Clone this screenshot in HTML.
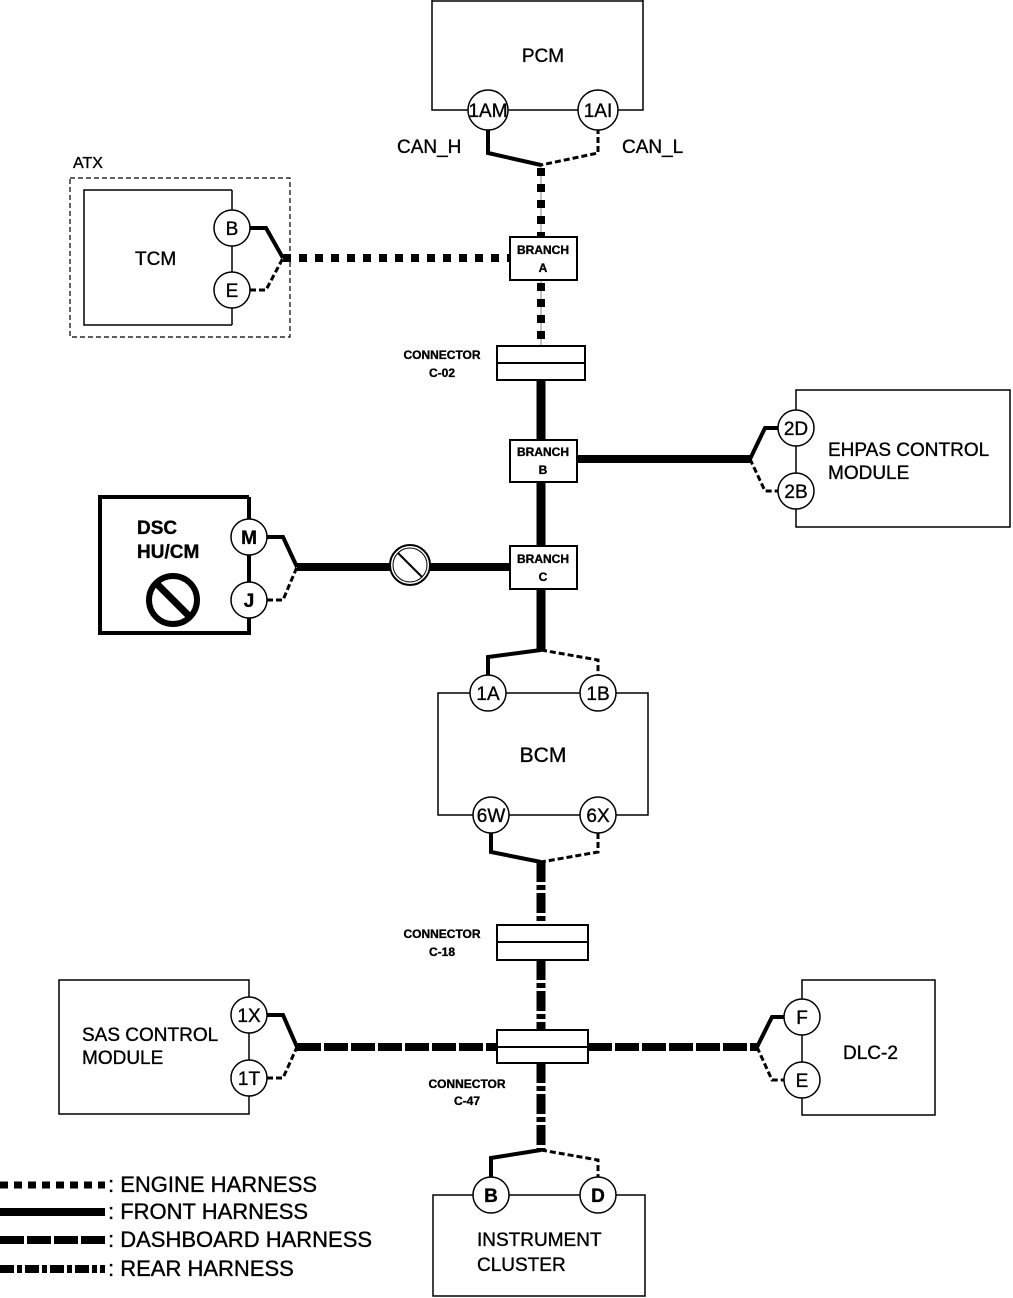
<!DOCTYPE html>
<html><head><meta charset="utf-8"><style>
html,body{margin:0;padding:0;background:#fff;}
svg{display:block;}
text{font-family:"Liberation Sans",sans-serif;fill:#000;stroke:#000;stroke-width:0.35;}
</style></head><body>
<svg width="1013" height="1298" viewBox="0 0 1013 1298" xmlns="http://www.w3.org/2000/svg">
<g fill="none" stroke="#000">
<path d="M432,0 V110 H643 V0" stroke-width="1.5"/>
<line x1="432" y1="1" x2="643" y2="1" stroke-width="1.5"/>
<rect x="70" y="178" width="220" height="159" stroke-width="1.2" stroke-dasharray="5,3"/>
<path d="M232,190 H84 V325 H232" stroke-width="1.5"/>
<line x1="232" y1="190" x2="232" y2="325" stroke-width="1.5"/>
<path d="M249,497 H100 V633 H249 V497" stroke-width="4"/>
<path d="M796,390 H1010 V527 H796 Z" stroke-width="1.5"/>
<rect x="438" y="693" width="210" height="122" stroke-width="1.5"/>
<rect x="59" y="980" width="190" height="134" stroke-width="1.5"/>
<rect x="802" y="980" width="133" height="135" stroke-width="1.5"/>
<path d="M433,1296 V1195 H645 V1296 Z" stroke-width="1.5"/>

<line x1="541" y1="165" x2="541" y2="346" stroke="#888" stroke-width="1"/>
<line x1="541" y1="168" x2="541" y2="238" stroke-width="8" stroke-dasharray="8,8"/>
<line x1="541" y1="283" x2="541" y2="346" stroke-width="8" stroke-dasharray="8,8"/>
<line x1="283" y1="258" x2="510" y2="258" stroke-width="8" stroke-dasharray="8,8"/>
<path d="M488,128 V153 L541,165" stroke-width="4"/>
<path d="M598,128 V153 L541,165" stroke-width="3" stroke-dasharray="6,3"/>
<path d="M250,228 H266 L283,258" stroke-width="4"/>
<path d="M250,290 H266 L283,258" stroke-width="3" stroke-dasharray="6,3"/>

<line x1="541" y1="380" x2="541" y2="440" stroke-width="9"/>
<line x1="541" y1="482" x2="541" y2="546" stroke-width="9"/>
<line x1="541" y1="589" x2="541" y2="650" stroke-width="9"/>
<line x1="577" y1="459" x2="750" y2="459" stroke-width="8"/>
<line x1="297" y1="567" x2="510" y2="567" stroke-width="8"/>
<path d="M750,459 L765,428 H778" stroke-width="4"/>
<path d="M750,459 L765,491 H778" stroke-width="3" stroke-dasharray="6,3"/>
<path d="M267,537 H283 L297,567" stroke-width="4"/>
<path d="M267,600 H283 L297,567" stroke-width="3" stroke-dasharray="6,3"/>
<path d="M541,650 L488,657 V675" stroke-width="4"/>
<path d="M541,650 L598,660 V675" stroke-width="3" stroke-dasharray="6,3"/>
<path d="M491,833 V852 L541,862" stroke-width="4"/>
<path d="M598,833 V852 L541,862" stroke-width="3" stroke-dasharray="6,3"/>
<line x1="541" y1="862" x2="541" y2="925" stroke-width="9" stroke-dasharray="20,3,5,3"/>
<line x1="541" y1="960" x2="541" y2="1030" stroke-width="9" stroke-dasharray="20,3,5,3"/>
<line x1="541" y1="1063" x2="541" y2="1150" stroke-width="9" stroke-dasharray="20,3,5,3"/>
<path d="M541,1150 L491,1158 V1177" stroke-width="4"/>
<path d="M541,1150 L598,1160 V1177" stroke-width="3" stroke-dasharray="6,3"/>
<line x1="297" y1="1047" x2="497" y2="1047" stroke-width="8" stroke-dasharray="24,3"/>
<line x1="588" y1="1047" x2="757" y2="1047" stroke-width="8" stroke-dasharray="24,3"/>
<path d="M267,1015 H283 L297,1047" stroke-width="4"/>
<path d="M267,1078 H283 L297,1047" stroke-width="3" stroke-dasharray="6,3"/>
<path d="M757,1047 L772,1017 H784" stroke-width="4"/>
<path d="M757,1047 L772,1080 H784" stroke-width="3" stroke-dasharray="6,3"/>

<g fill="#fff" stroke-width="2">
<rect x="510" y="237" width="67" height="43"/>
<rect x="510" y="440" width="67" height="42"/>
<rect x="510" y="546" width="67" height="43"/>
<rect x="497" y="346" width="88" height="34"/>
<rect x="497" y="925" width="91" height="35"/>
<rect x="497" y="1030" width="91" height="33"/>
</g>
<line x1="497" y1="363" x2="585" y2="363" stroke-width="2"/>
<line x1="497" y1="942" x2="588" y2="942" stroke-width="2"/>
<line x1="497" y1="1047" x2="588" y2="1047" stroke-width="2"/>

<circle cx="410" cy="565" r="20" fill="#fff" stroke-width="2"/>
<circle cx="410" cy="565" r="17" fill="none" stroke-width="1"/>
<line x1="398" y1="553" x2="422" y2="577" stroke-width="2"/>
<circle cx="173" cy="600" r="24" stroke-width="6"/>
<line x1="157" y1="584" x2="189" y2="616" stroke-width="7"/>

<g fill="#fff" stroke-width="1.5">
<circle cx="488" cy="110" r="20"/><circle cx="598" cy="110" r="20"/>
<circle cx="232" cy="228" r="18"/><circle cx="232" cy="290" r="18"/>
<circle cx="796" cy="428" r="18"/><circle cx="796" cy="491" r="18"/>
<circle cx="249" cy="537" r="18"/><circle cx="249" cy="600" r="18"/>
<circle cx="488" cy="693" r="18"/><circle cx="598" cy="693" r="18"/>
<circle cx="491" cy="815" r="18"/><circle cx="598" cy="815" r="18"/>
<circle cx="249" cy="1015" r="18"/><circle cx="249" cy="1078" r="18"/>
<circle cx="802" cy="1017" r="18"/><circle cx="802" cy="1080" r="18"/>
<circle cx="491" cy="1195" r="18"/><circle cx="598" cy="1195" r="18"/>
</g>

<line x1="0" y1="1185" x2="105" y2="1185" stroke-width="7" stroke-dasharray="8,6"/>
<line x1="0" y1="1212" x2="105" y2="1212" stroke-width="8"/>
<line x1="0" y1="1240" x2="105" y2="1240" stroke-width="8" stroke-dasharray="24,3"/>
<line x1="0" y1="1269" x2="105" y2="1269" stroke-width="8" stroke-dasharray="14,3,5,3"/>
</g>

<g font-size="19" text-anchor="middle">
<text x="488" y="117">1AM</text><text x="598" y="117">1AI</text>
<text x="232" y="235">B</text><text x="232" y="297">E</text>
<text x="796" y="435">2D</text><text x="796" y="498">2B</text>
<text x="249" y="544" font-weight="bold">M</text><text x="249" y="607" font-weight="bold">J</text>
<text x="488" y="700">1A</text><text x="598" y="700">1B</text>
<text x="491" y="822">6W</text><text x="598" y="822">6X</text>
<text x="249" y="1022">1X</text><text x="249" y="1085">1T</text>
<text x="802" y="1024">F</text><text x="802" y="1087">E</text>
<text x="491" y="1202" font-weight="bold">B</text><text x="598" y="1202" font-weight="bold">D</text>
</g>
<g font-size="12" text-anchor="middle" font-weight="bold" style="stroke-width:0">
<text x="543" y="254">BRANCH</text><text x="543" y="272">A</text>
<text x="543" y="456">BRANCH</text><text x="543" y="474">B</text>
<text x="543" y="563">BRANCH</text><text x="543" y="581">C</text>
<text x="442" y="359">CONNECTOR</text><text x="442" y="377">C-02</text>
<text x="442" y="938">CONNECTOR</text><text x="442" y="956">C-18</text>
<text x="467" y="1088">CONNECTOR</text><text x="467" y="1105">C-47</text>
</g>
<g font-size="19">
<text x="543" y="62" text-anchor="middle">PCM</text>
<text x="397" y="153">CAN_H</text><text x="622" y="153">CAN_L</text>
<text x="73" y="168" font-size="16">ATX</text>
<text x="135" y="265">TCM</text>
<text x="828" y="456">EHPAS CONTROL</text><text x="828" y="479">MODULE</text>
<text x="137" y="534" font-weight="bold">DSC</text><text x="137" y="558" font-weight="bold">HU/CM</text>
<text x="543" y="762" font-size="21" text-anchor="middle">BCM</text>
<text x="82" y="1041">SAS CONTROL</text><text x="82" y="1064">MODULE</text>
<text x="843" y="1059">DLC-2</text>
<text x="477" y="1246">INSTRUMENT</text><text x="477" y="1271">CLUSTER</text>
</g>
<g font-size="22">
<text x="108" y="1192">: ENGINE HARNESS</text>
<text x="108" y="1219">: FRONT HARNESS</text>
<text x="108" y="1247">: DASHBOARD HARNESS</text>
<text x="108" y="1276">: REAR HARNESS</text>
</g>
</svg>
</body></html>
